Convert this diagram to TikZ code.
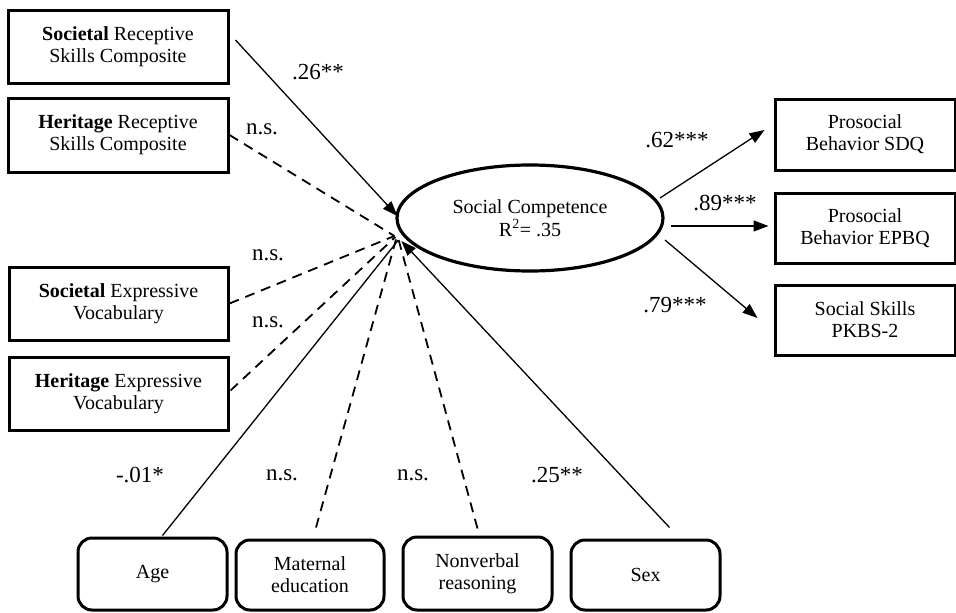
\documentclass[tikz,border=0pt]{standalone}
\usepackage{fontspec}
\setmainfont{Liberation Serif}
\usetikzlibrary{arrows.meta,shapes.geometric}
\begin{document}
\begin{tikzpicture}[x=1pt,y=-1pt,
  box/.style={draw, line width=3pt, align=center, inner sep=0pt, font=\fontsize{20}{22}\selectfont},
  rbox/.style={box, rounded corners=14pt},
  lbl/.style={font=\fontsize{23}{25}\selectfont, inner sep=0pt},
  con/.style={line width=1.3pt},
  dsh/.style={line width=1.8pt, dash pattern=on 10pt off 7pt},
  arr/.style={con, -{Triangle[length=15pt,width=11pt]}}
]
\useasboundingbox (0,0) rectangle (956,613);
\fill[white] (0,0) rectangle (956,613);

% left boxes
\node[box, minimum width=220pt, minimum height=73pt] (sr) at (118,46.5) {\textbf{Societal} Receptive\\Skills Composite};
\node[box, minimum width=220pt, minimum height=74pt] (hr) at (118,135) {\textbf{Heritage} Receptive\\Skills Composite};
\node[box, minimum width=219pt, minimum height=73pt] (se) at (118.5,303.5) {\textbf{Societal} Expressive\\Vocabulary};
\node[box, minimum width=219pt, minimum height=73pt] (he) at (118.5,393.5) {\textbf{Heritage} Expressive\\Vocabulary};

% right boxes
\node[box, minimum width=180pt, minimum height=71pt] (r1) at (865,134.5) {Prosocial\\Behavior SDQ};
\node[box, minimum width=180pt, minimum height=70pt] (r2) at (865,228) {Prosocial\\Behavior EPBQ};
\node[box, minimum width=180pt, minimum height=70pt] (r3) at (865,320) {Social Skills\\PKBS-2};

% bottom boxes
\node[rbox, minimum width=149pt, minimum height=72pt] (age) at (152.5,574) {Age};
\node[rbox, minimum width=148pt, minimum height=70pt] (mat) at (310,575) {Maternal\\education};
\node[rbox, minimum width=149pt, minimum height=73pt] (nv) at (477.5,573.5) {Nonverbal\\reasoning};
\node[rbox, minimum width=149pt, minimum height=70pt] (sex) at (645.5,575) {Sex};

% latent
\node[draw, ellipse, line width=3.2pt, minimum width=266pt, minimum height=106pt, inner sep=0pt, align=center, font=\fontsize{20}{23}\selectfont] (sc) at (530,218) {Social Competence\\R\textsuperscript{2}= .35};

% predictors
\draw[arr] ([shift={(6,-6.5)}]sr.east) -- ([shift={(2,-2)}]sc.west);
\draw[dsh] (hr.east) -- ([shift={(-1,18)}]sc.west);
\draw[dsh] (se.east) -- ([shift={(-1,18)}]sc.west);
\draw[dsh] ([shift={(1,-3)}]he.east) -- ([shift={(0,19)}]sc.west);
\draw[con] ([shift={(10,-1)}]age.north) -- ([shift={(3,22)}]sc.west);
\draw[dsh] ([shift={(6,-11)}]mat.north) -- ([shift={(1,20)}]sc.west);
\draw[dsh] ([shift={(0,-7)}]nv.north) -- ([shift={(3,21)}]sc.west);
\draw[arr] ([shift={(24,-11)}]sex.north) -- ([shift={(6,23)}]sc.west);

% outcomes
\draw[arr] ([shift={(130,-20)}]sc.center) -- ([shift={(-9,-4.5)}]r1.west);
\draw[arr] ([shift={(141,8)}]sc.center) -- ([shift={(-5,-2)}]r2.west);
\draw[arr] ([shift={(135,22)}]sc.center) -- ([shift={(-16,-2)}]r3.west);

% labels
\node[lbl] (l1) at (318,72) {.26**};
\node[lbl] (l2) at (262,129) {n.s.};
\node[lbl] (l3) at (268,255) {n.s.};
\node[lbl] (l4) at (268,322) {n.s.};
\node[lbl] (l5) at (677,140) {.62***};
\node[lbl] (l6) at (725,203) {.89***};
\node[lbl] (l7) at (675,305) {.79***};
\node[lbl] (l8) at (140,475) {-.01*};
\node[lbl] (l9) at (282,475) {n.s.};
\node[lbl] (l10) at (413,475) {n.s.};
\node[lbl] (l11) at (557,475) {.25**};
\end{tikzpicture}
\end{document}
